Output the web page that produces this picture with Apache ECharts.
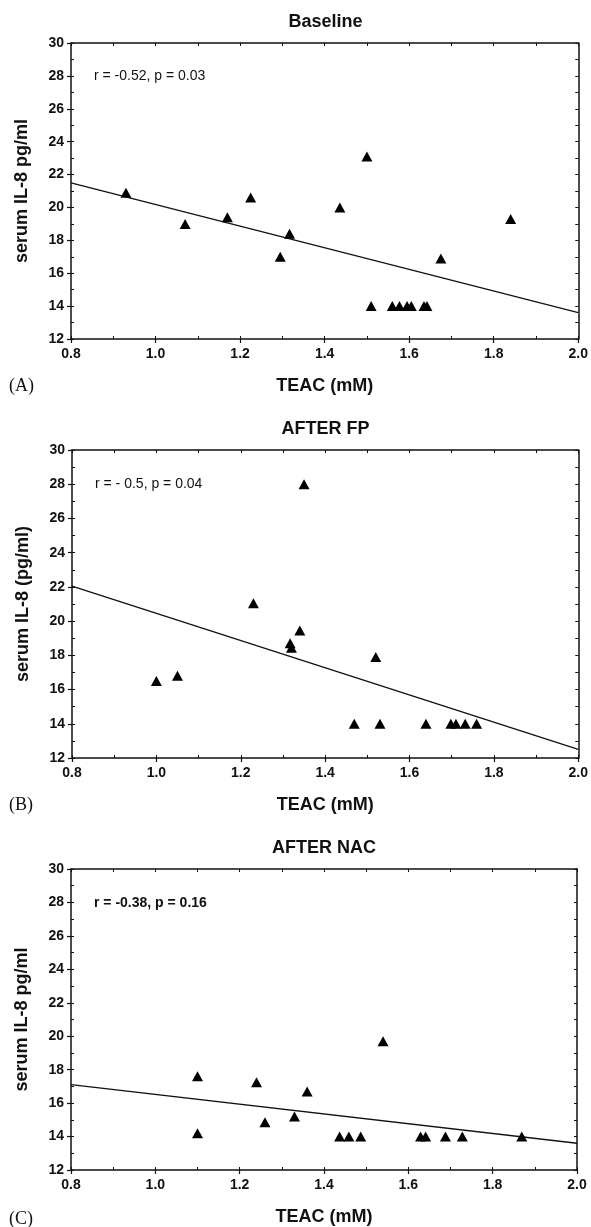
<!DOCTYPE html>
<html>
<head>
<meta charset="utf-8">
<script src="https://cdn.jsdelivr.net/npm/echarts@6/dist/echarts.min.js"></script>
<style>
	html, body { margin: 0; background: #fff; }
	#main { width: 591px; height: 1227px; }
</style>
</head>
<body>
<div id="main"></div>
<script>
// texts of the three panels
var panelTitles = ['Baseline', 'AFTER FP', 'AFTER NAC'];
var panelTags = ['(A)', '(B)', '(C)'];
var yNames = ['serum IL-8 pg/ml', 'serum IL-8 (pg/ml)', 'serum IL-8 pg/ml'];
var statTexts = ['r = -0.52, p = 0.03', 'r = - 0.5, p = 0.04', 'r = -0.38, p = 0.16'];
var xName = 'TEAC (mM)';

// (A) baseline
var teacA = [0.93, 1.07, 1.17, 1.225, 1.295, 1.317, 1.436, 1.50, 1.51, 1.56, 1.577, 1.595, 1.605, 1.635, 1.642, 1.675, 1.84];
var il8A = [20.9, 19.0, 19.4, 20.6, 17.0, 18.4, 20.0, 23.1, 14.0, 14.0, 14.0, 14.0, 14.0, 14.0, 14.0, 16.9, 19.3];
// (B) after FP
var teacB = [1.00, 1.05, 1.23, 1.317, 1.32, 1.34, 1.35, 1.52, 1.469, 1.53, 1.639, 1.698, 1.71, 1.732, 1.759];
var il8B = [16.5, 16.8, 21.05, 18.7, 18.45, 19.45, 28.0, 17.9, 14.0, 14.0, 14.0, 14.0, 14.0, 14.0, 14.0];
// (C) after NAC
var teacC = [1.10, 1.10, 1.24, 1.26, 1.33, 1.36, 1.54, 1.437, 1.459, 1.487, 1.629, 1.641, 1.688, 1.728, 1.869];
var il8C = [17.6, 14.2, 17.25, 14.85, 15.2, 16.7, 19.7, 14.0, 14.0, 14.0, 14.0, 14.0, 14.0, 14.0, 14.0];

// regression lines, value at TEAC 0.8 and 2.0
var fitX = [0.8, 2.0];
var fitA = [21.5, 13.6];
var fitB = [22.05, 12.5];
var fitC = [17.1, 13.6];

var teacs = [teacA, teacB, teacC];
var il8s = [il8A, il8B, il8C];
var fits = [fitA, fitB, fitC];

// plot boxes (px)
var boxes = [
	{ left: 71, top: 43, width: 509, height: 296 },
	{ left: 72, top: 450, width: 507, height: 308 },
	{ left: 71, top: 869, width: 506, height: 303 }
];

var FONT = '"Liberation Sans", Arial, sans-serif';
var INK = '#111';

var option = { animation: false, grid: [], xAxis: [], yAxis: [], series: [], graphic: [] };

boxes.forEach(function (b, i) {
	option.grid.push({ left: b.left, top: b.top, width: b.width, height: b.height });

	var line = { show: true, onZero: false, lineStyle: { color: INK, width: 1.5 } };
	var noLine = { show: false };
	var tickIn = { show: true, inside: true, length: 3, lineStyle: { color: INK, width: 1 } };
	var tickOut = { show: true, inside: false, length: 4, lineStyle: { color: INK, width: 1.2 } };
	var lbl = { color: INK, fontSize: 14, fontWeight: 'bold', fontFamily: FONT };
	var nameStyle = { color: INK, fontSize: 18, fontWeight: 'bold', fontFamily: FONT };

	// x: main bottom, minor bottom, top frame
	option.xAxis.push({
		type: 'value', gridIndex: i, position: 'bottom', min: 0.8, max: 2.0, interval: 0.2,
		axisLine: line, axisTick: tickOut, splitLine: { show: false },
		axisLabel: Object.assign({ margin: 8, formatter: function (v) { return v.toFixed(1); } }, lbl),
		name: xName, nameLocation: 'middle', nameGap: 38, nameTextStyle: nameStyle
	});
	option.xAxis.push({
		type: 'value', gridIndex: i, position: 'bottom', min: 0.8, max: 2.0, interval: 0.1,
		axisLine: noLine, axisTick: tickIn, axisLabel: { show: false }, splitLine: { show: false }
	});
	option.xAxis.push({
		type: 'value', gridIndex: i, position: 'top', min: 0.8, max: 2.0, interval: 0.1,
		axisLine: line, axisTick: tickIn, axisLabel: { show: false }, splitLine: { show: false }
	});

	// y: main left, minor left, right frame
	option.yAxis.push({
		type: 'value', gridIndex: i, position: 'left', min: 12, max: 30, interval: 2,
		axisLine: line, axisTick: tickOut, splitLine: { show: false },
		axisLabel: Object.assign({ margin: 7 }, lbl),
		name: yNames[i], nameLocation: 'middle', nameGap: 40, nameTextStyle: nameStyle
	});
	option.yAxis.push({
		type: 'value', gridIndex: i, position: 'left', min: 12, max: 30, interval: 1,
		axisLine: noLine, axisTick: tickIn, axisLabel: { show: false }, splitLine: { show: false }
	});
	option.yAxis.push({
		type: 'value', gridIndex: i, position: 'right', min: 12, max: 30, interval: 1,
		axisLine: line, axisTick: tickIn, axisLabel: { show: false }, splitLine: { show: false }
	});

	var pts = teacs[i].map(function (t, k) { return [t, il8s[i][k]]; });
	option.series.push({
		type: 'line', xAxisIndex: i * 3, yAxisIndex: i * 3,
		data: [[fitX[0], fits[i][0]], [fitX[1], fits[i][1]]],
		showSymbol: false, silent: true,
		lineStyle: { color: INK, width: 1.3 }, z: 2
	});
	option.series.push({
		type: 'scatter', xAxisIndex: i * 3, yAxisIndex: i * 3,
		data: pts, symbol: 'triangle', symbolSize: [11, 10],
		itemStyle: { color: '#000', opacity: 1 }, z: 3
	});

	// title, stats text, panel tag
	option.graphic.push({
		type: 'text', x: b.left + b.width / 2, y: b.top - 21,
		style: { text: panelTitles[i], fill: INK, font: 'bold 18px ' + FONT, align: 'center', verticalAlign: 'middle' }
	});
	option.graphic.push({
		type: 'text', x: b.left + 23, y: b.top + b.height * 2 / 18,
		style: { text: statTexts[i], fill: INK, font: (i === 2 ? 'bold ' : '') + '14px ' + FONT, align: 'left', verticalAlign: 'middle' }
	});
	option.graphic.push({
		type: 'text', x: 9, y: b.top + b.height + 47,
		style: { text: panelTags[i], fill: INK, font: '18px "Liberation Serif", "Times New Roman", serif', align: 'left', verticalAlign: 'middle' }
	});
});

var myChart = echarts.init(document.getElementById('main'));
myChart.setOption(option);
</script>
</body>
</html>
